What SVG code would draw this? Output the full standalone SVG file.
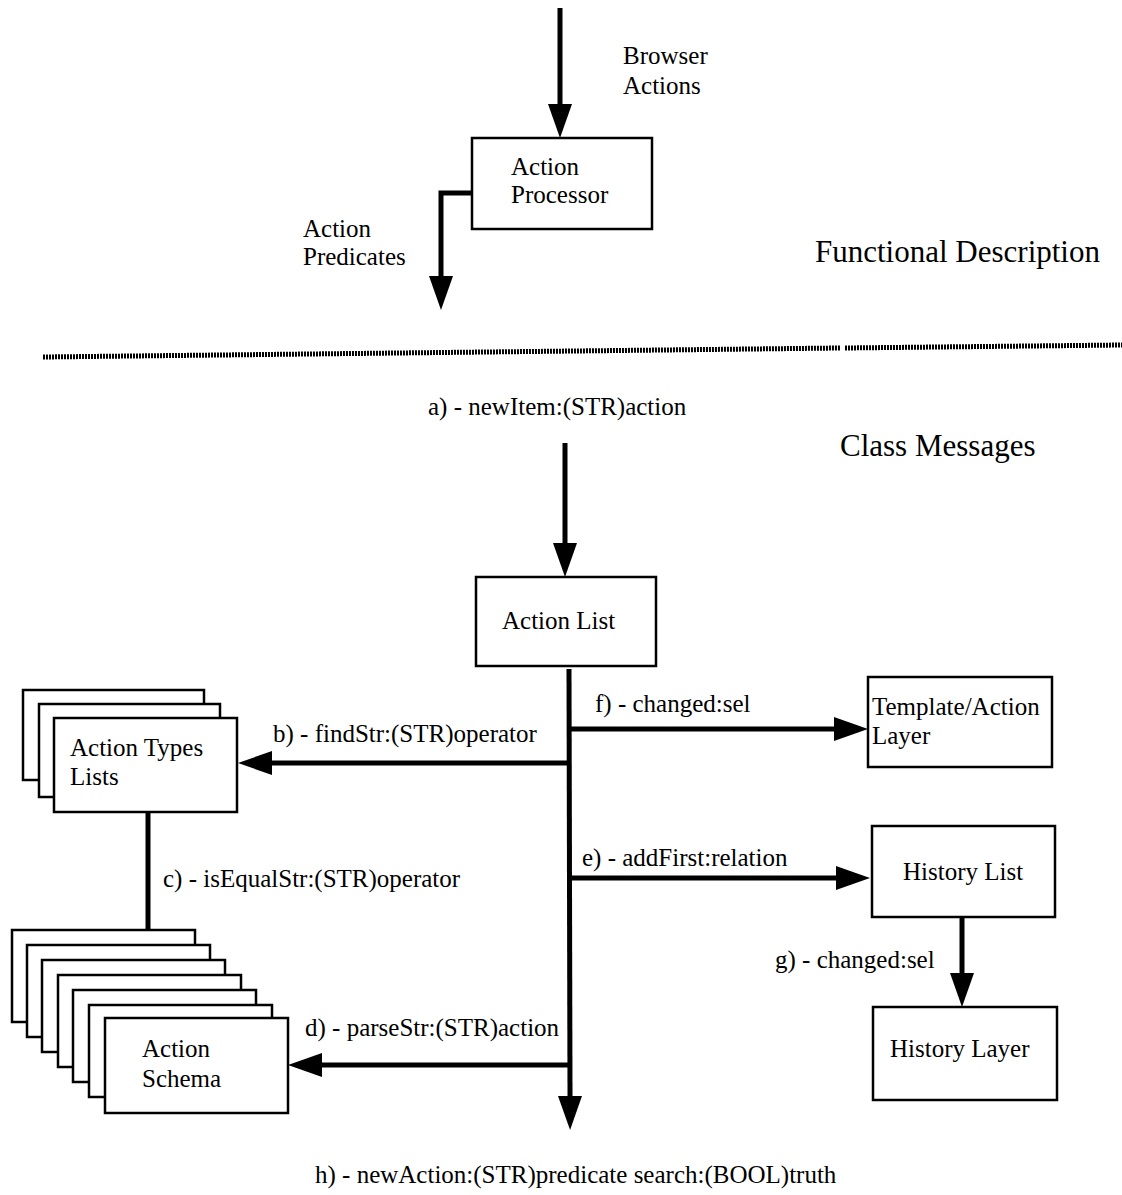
<svg xmlns="http://www.w3.org/2000/svg" width="1122" height="1195" viewBox="0 0 1122 1195">
  <style>
    .box { fill: #fff; stroke: #000; stroke-width: 2.5; }
    .wire { fill: none; stroke: #000; stroke-width: 5; }
    .lbl { font-family: "Liberation Serif", "Times New Roman", serif; font-size: 25px; fill: #000; }
    .node { font-family: "Liberation Serif", "Times New Roman", serif; font-size: 25px; fill: #000; }
    .title { font-family: "Liberation Serif", "Times New Roman", serif; font-size: 31px; fill: #000; }
  </style>
  <defs>
    <!-- filled arrowhead; origin sits at the base so the tip extends 34px past the line end -->
    <marker id="head" markerUnits="userSpaceOnUse" markerWidth="36" markerHeight="24" refX="0" refY="12" orient="auto">
      <path d="M0,0 L34,12 L0,24 z" fill="#000"/>
    </marker>
  </defs>

  <rect width="1122" height="1195" fill="#fff"/>

  <!-- section titles and divider -->
  <text class="title" x="815" y="262">Functional Description</text>
  <text class="title" x="840" y="456">Class Messages</text>
  <path d="M43,357 L840,348 M845,348 L1122,345" stroke="#000" stroke-width="5" stroke-dasharray="2 1" fill="none"/>

  <!-- connectors -->
  <g id="connectors">
    <!-- functional view -->
    <path class="wire" d="M560,8 L560,104" marker-end="url(#head)"/>
    <path class="wire" d="M472,193 L441,193 L441,276" marker-end="url(#head)"/>
    <!-- a) into Action List -->
    <path class="wire" d="M565,443 L565,543" marker-end="url(#head)"/>
    <!-- main message bus out of Action List -->
    <path class="wire" d="M569,669 L570,1096" marker-end="url(#head)"/>
    <!-- f) to Template/Action Layer -->
    <path class="wire" d="M569,729 L834,729" marker-end="url(#head)"/>
    <!-- b) to Action Types Lists -->
    <path class="wire" d="M569,763 L272,763" marker-end="url(#head)"/>
    <!-- e) to History List -->
    <path class="wire" d="M569,878 L836,878" marker-end="url(#head)"/>
    <!-- c) to Action Schema stack -->
    <path class="wire" d="M148,812 L148,939" marker-end="url(#head)"/>
    <!-- g) to History Layer -->
    <path class="wire" d="M962,918 L962,973" marker-end="url(#head)"/>
    <!-- d) to Action Schema -->
    <path class="wire" d="M571,1065 L322,1065" marker-end="url(#head)"/>
  </g>

  <!-- connector labels -->
  <g id="labels">
    <text class="lbl" x="623" y="64">Browser</text>
    <text class="lbl" x="623" y="94">Actions</text>
    <text class="lbl" x="303" y="237">Action</text>
    <text class="lbl" x="303" y="265">Predicates</text>
    <text class="lbl" x="428" y="415">a) - newItem:(STR)action</text>
    <text class="lbl" x="595" y="712">f) - changed:sel</text>
    <text class="lbl" x="273" y="742">b) - findStr:(STR)operator</text>
    <text class="lbl" x="582" y="866">e) - addFirst:relation</text>
    <text class="lbl" x="163" y="887">c) - isEqualStr:(STR)operator</text>
    <text class="lbl" x="775" y="968">g) - changed:sel</text>
    <text class="lbl" x="305" y="1036">d) - parseStr:(STR)action</text>
    <text class="lbl" x="315" y="1183">h) - newAction:(STR)predicate search:(BOOL)truth</text>
  </g>

  <!-- nodes -->
  <g id="action-processor">
    <rect class="box" x="472" y="138" width="180" height="91"/>
    <text class="node" x="511" y="175">Action</text>
    <text class="node" x="511" y="203">Processor</text>
  </g>

  <g id="action-list">
    <rect class="box" x="476" y="577" width="180" height="89"/>
    <text class="node" x="502" y="629">Action List</text>
  </g>

  <g id="template-action-layer">
    <rect class="box" x="868" y="677" width="184" height="90"/>
    <text class="node" x="872" y="715">Template/Action</text>
    <text class="node" x="872" y="744">Layer</text>
  </g>

  <g id="history-list">
    <rect class="box" x="872" y="826" width="183" height="91"/>
    <text class="node" x="903" y="880">History List</text>
  </g>

  <g id="history-layer">
    <rect class="box" x="873" y="1007" width="184" height="93"/>
    <text class="node" x="890" y="1057">History Layer</text>
  </g>

  <g id="action-types-lists">
    <rect class="box" x="23" y="690" width="181" height="90"/>
    <rect class="box" x="39" y="704" width="181" height="93"/>
    <rect class="box" x="54" y="718" width="183" height="94"/>
    <text class="node" x="70" y="756">Action Types</text>
    <text class="node" x="70" y="785">Lists</text>
  </g>

  <g id="action-schema">
    <rect class="box" x="12" y="930" width="183" height="92"/>
    <rect class="box" x="27" y="945" width="183" height="92"/>
    <rect class="box" x="42" y="960" width="183" height="92"/>
    <rect class="box" x="58" y="975" width="183" height="92"/>
    <rect class="box" x="73" y="990" width="183" height="92"/>
    <rect class="box" x="89" y="1005" width="183" height="92"/>
    <rect class="box" x="105" y="1018" width="183" height="95"/>
    <text class="node" x="142" y="1057">Action</text>
    <text class="node" x="142" y="1087">Schema</text>
  </g>
</svg>
